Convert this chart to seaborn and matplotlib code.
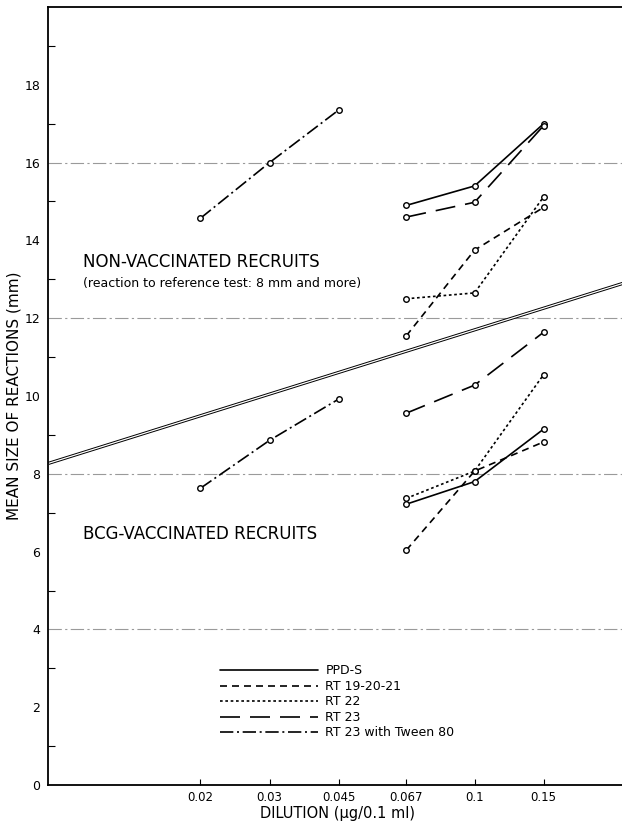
import numpy as np
import pandas as pd
import seaborn as sns
import matplotlib.pyplot as plt
from matplotlib.lines import Line2D
import matplotlib.transforms as mtransforms

sns.set_style('white')
plt.rcParams['font.family'] = ['DejaVu Sans']
plt.rcParams['text.color'] = 'black'
plt.rcParams['axes.labelcolor'] = 'black'
plt.rcParams['xtick.color'] = 'black'
plt.rcParams['ytick.color'] = 'black'

# dilutions (ug/0.1 ml)
dil_low = [0.02, 0.03, 0.045]
dil_high = [0.067, 0.1, 0.15]
tick_vals = [0.02, 0.03, 0.045, 0.067, 0.1, 0.15]
tick_labels = ['0.02', '0.03', '0.045', '0.067', '0.1', '0.15']

# non-vaccinated recruits
nv_ppds = [14.9, 15.4, 17.0]
nv_rt19 = [11.55, 13.75, 14.85]
nv_rt22 = [12.5, 12.65, 15.12]
nv_rt23 = [14.6, 14.98, 16.95]
nv_tween = [14.57, 16.0, 17.35]

# BCG-vaccinated recruits
bcg_ppds = [7.22, 7.8, 9.15]
bcg_rt19 = [6.04, 8.07, 8.82]
bcg_rt22 = [7.37, 8.07, 10.55]
bcg_rt23 = [9.56, 10.28, 11.64]
bcg_tween = [7.63, 8.86, 9.92]

# reference line (double line)
ref_x = [0.0082, 0.245]
ref_y = [8.27, 12.93]

preps = ['PPD-S', 'RT 19-20-21', 'RT 22', 'RT 23', 'RT 23 with Tween 80']
styles = {
    'PPD-S': '-',
    'RT 19-20-21': (0, (4.2, 3.0)),
    'RT 22': (0, (1.6, 1.6)),
    'RT 23': (0, (12, 6)),
    'RT 23 with Tween 80': (0, (8, 2.2, 1.2, 2.2)),
}

rows = []
for prep, xs, nv, bcg in [
    ('PPD-S', dil_high, nv_ppds, bcg_ppds),
    ('RT 19-20-21', dil_high, nv_rt19, bcg_rt19),
    ('RT 22', dil_high, nv_rt22, bcg_rt22),
    ('RT 23', dil_high, nv_rt23, bcg_rt23),
    ('RT 23 with Tween 80', dil_low, nv_tween, bcg_tween),
]:
    for x, y in zip(xs, nv):
        rows.append((prep, 'non-vaccinated', x, y))
    for x, y in zip(xs, bcg):
        rows.append((prep, 'BCG', x, y))
df = pd.DataFrame(rows, columns=['prep', 'group', 'dilution', 'size'])

fig = plt.figure(figsize=(6.22, 8.21), dpi=100)
ax = fig.add_axes([0.0772, 0.0438, 0.93, 0.9477])

# grid lines
for gy in [4, 8, 12, 16]:
    ax.axhline(gy, color='#9a9a9a', lw=0.8, linestyle=(0, (12, 3, 2, 3)), zorder=1)

# double reference line
ax.plot(ref_x, ref_y, color='black', lw=2.3, solid_capstyle='butt', zorder=2)
ax.plot(ref_x, ref_y, color='white', lw=0.9, solid_capstyle='butt', zorder=2)

for (prep, group), sub in df.groupby(['prep', 'group']):
    sns.lineplot(data=sub, x='dilution', y='size', ax=ax, color='black',
                 linestyle=styles[prep], lw=1.2, marker='o', markersize=4,
                 markerfacecolor='white', markeredgecolor='black',
                 markeredgewidth=1.0, legend=False, zorder=3)

ax.set_xscale('log')
ax.set_xlim(0.00817, 0.244)
ax.set_ylim(0, 20)
ax.set_xticks(tick_vals)
ax.set_xticklabels(tick_labels, fontsize=8.5)
ax.xaxis.set_minor_locator(plt.NullLocator())
ax.set_yticks(range(0, 19, 2))
ax.set_yticklabels([str(v) for v in range(0, 19, 2)], fontsize=9)
ax.set_yticks(range(1, 20, 2), minor=True)
ax.tick_params(axis='y', which='major', direction='inout', length=7, width=1, pad=2)
ax.tick_params(axis='y', which='minor', direction='in', length=5, width=0.8, left=True)
ax.tick_params(axis='x', which='major', direction='in', length=4, width=0.8, bottom=True, pad=4)

for s in ['left', 'bottom', 'top']:
    ax.spines[s].set_linewidth(1.3)
    ax.spines[s].set_color('black')
ax.spines['right'].set_visible(False)

ax.set_xlabel('DILUTION (\u03bcg/0.1 ml)', fontsize=10.5, labelpad=2)
ax.set_ylabel('MEAN SIZE OF REACTIONS (mm)', fontsize=11, labelpad=2)

trans = mtransforms.blended_transform_factory(ax.transAxes, ax.transData)
ax.text(0.061, 13.45, 'NON-VACCINATED RECRUITS', transform=trans,
        fontsize=12, va='center', ha='left')
ax.text(0.061, 12.88, '(reaction to reference test: 8 mm and more)', transform=trans,
        fontsize=9, va='center', ha='left')
ax.text(0.061, 6.45, 'BCG-VACCINATED RECRUITS', transform=trans,
        fontsize=12, va='center', ha='left')

handles = [Line2D([0], [0], color='black', lw=1.2, linestyle=styles[p]) for p in preps]
ax.legend(handles, preps, loc='upper left', bbox_to_anchor=(0.298, 0.155),
          frameon=False, fontsize=9, handlelength=7.8, handletextpad=0.6,
          labelspacing=0.2, borderpad=0, borderaxespad=0)

fig.savefig('out.png', dpi=100)
